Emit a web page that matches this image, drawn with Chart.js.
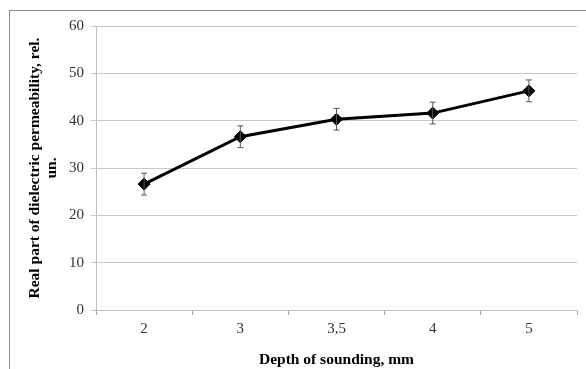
<!DOCTYPE html>
<html>
<head>
<meta charset="utf-8">
<script src="https://cdn.jsdelivr.net/npm/chart.js@4.4.1/dist/chart.umd.min.js"></script>
<style>
  body { margin: 0; background: #fff; }
  #wrap { position: relative; width: 586px; height: 369px; overflow: hidden; }
  #frame { position: absolute; left: 9px; top: 10px; width: 700px; height: 500px; border: 1px solid #8c8c8c; }
  canvas { position: absolute; left: 0; top: 0; }
</style>
</head>
<body>
<div id="wrap">
  <div id="frame"></div>
  <canvas id="line-chart" width="586" height="369"></canvas>
</div>
<script>
// depth of sounding, mm
const depthLabels = ["2", "3", "3,5", "4", "5"];
// real part of dielectric permeability, rel. un.
const permValues = [26.6, 36.6, 40.3, 41.6, 46.3];
const permErrors = [2.3, 2.3, 2.3, 2.3, 2.3];
const yTicks = [0, 10, 20, 30, 40, 50, 60];

// simple error bars drawn through the chart scales
const errorBars = {
    id: "errorBars",
    afterDatasetsDraw(chart){
        const ctx = chart.ctx;
        const xs = chart.scales.x;
        const ys = chart.scales.y;
        ctx.save();
        ctx.strokeStyle = "#555";
        ctx.lineWidth = 1;
        for(let i = 0; i < permValues.length; i++){
            const x = xs.getPixelForValue(i);
            const top = ys.getPixelForValue(permValues[i] + permErrors[i]);
            const bot = ys.getPixelForValue(permValues[i] - permErrors[i]);
            ctx.beginPath();
            ctx.moveTo(x, top); ctx.lineTo(x, bot);
            ctx.moveTo(x - 3, top); ctx.lineTo(x + 3, top);
            ctx.moveTo(x - 3, bot); ctx.lineTo(x + 3, bot);
            ctx.stroke();
        }
        ctx.restore();
    }
};

var ctx = document.getElementById("line-chart").getContext("2d");
var myChart = new Chart(ctx, {
    type: "line",
    data: {
        labels: depthLabels,
        datasets: [{
            label: "Permeability",
            data: permValues,
            borderColor: "#000",
            backgroundColor: "#000",
            borderWidth: 3,
            pointStyle: "rectRot",
            pointRadius: 6,
            pointBorderWidth: 1,
            tension: 0,
            fill: false
        }]
    },
    options: {
        responsive: false,
        animation: false,
        layout: { padding: { top: 26, right: 9, left: 0, bottom: 0 } },
        plugins: {
            legend: { display: false },
            tooltip: { enabled: false }
        },
        scales: {
            x: {
                offset: true,
                afterFit: function(s){ s.height = 59; },
                grid: {
                    offset: true,
                    drawOnChartArea: false,
                    color: "#a6a6a6",
                    tickLength: 5
                },
                border: { color: "#bfbfbf", width: 1 },
                ticks: {
                    color: "#333",
                    padding: 5,
                    font: { family: "'Liberation Serif'", size: 15 }
                },
                title: {
                    display: true,
                    text: "Depth of sounding, mm",
                    color: "#000",
                    padding: { top: 0, bottom: 0 },
                    font: { family: "'Liberation Serif'", size: 15.5, weight: "bold" }
                }
            },
            y: {
                min: 0,
                max: 60,
                afterFit: function(s){ s.width = 96; },
                afterBuildTicks: function(s){ s.ticks = yTicks.map(v => ({ value: v })); },
                grid: {
                    color: "#c8c8c8",
                    tickLength: 5
                },
                border: { color: "#bfbfbf", width: 1 },
                ticks: {
                    color: "#333",
                    padding: 7,
                    font: { family: "'Liberation Serif'", size: 15 }
                },
                title: {
                    display: true,
                    text: ["Real part of dielectric permeability, rel.", "un."],
                    color: "#000",
                    padding: { top: 26, bottom: 0 },
                    font: { family: "'Liberation Serif'", size: 15.5, weight: "bold", lineHeight: 1.1 }
                }
            }
        }
    },
    plugins: [errorBars]
});
</script>
</body>
</html>
